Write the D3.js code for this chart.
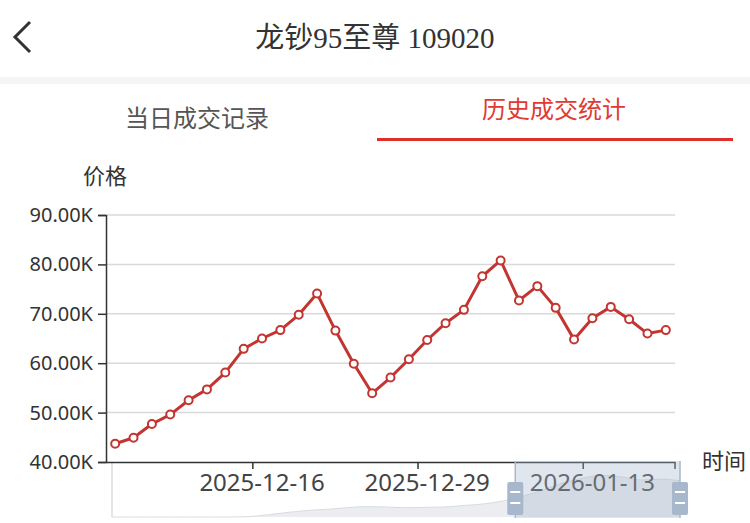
<!DOCTYPE html>
<html>
<head>
<meta charset="utf-8">
<script src="https://cdn.jsdelivr.net/npm/d3@7"></script>
<style>
  html, body { margin: 0; padding: 0; background: #fff; }
  svg { display: block; }
</style>
</head>
<body>
<svg id="chart" width="750" height="523"></svg>
<script>
// trading days shown on the category axis
const dates = [
  "2025-12-04", "2025-12-05", "2025-12-08", "2025-12-09", "2025-12-10",
  "2025-12-11", "2025-12-12", "2025-12-15", "2025-12-16", "2025-12-17",
  "2025-12-18", "2025-12-19", "2025-12-22", "2025-12-23", "2025-12-24",
  "2025-12-25", "2025-12-26", "2025-12-29", "2025-12-30", "2025-12-31",
  "2026-01-05", "2026-01-06", "2026-01-07", "2026-01-08", "2026-01-09",
  "2026-01-12", "2026-01-13", "2026-01-14", "2026-01-15", "2026-01-16",
  "2026-01-19"
];
const prices = [
  43700, 44900, 47700, 49600, 52500, 54700, 58100, 62900, 65000, 66700,
  69800, 74100, 66600, 59900, 53900, 57100, 60800, 64700, 68100, 70800,
  77600, 80800, 72700, 75600, 71200, 64800, 69100, 71400, 68900, 66000,
  66700
];
const yTicks = [40000, 50000, 60000, 70000, 80000, 90000];
const xLabelDates = ["2025-12-16", "2025-12-29", "2026-01-13"];
// full-history preview drawn in the zoom slider (price in K)
const shadowPrices = [
  20, 20, 20, 20, 20, 20, 20, 20.5, 23, 26, 28.5, 30, 32, 33.5, 33,
  32, 32.5, 33, 35, 37, 41, 47, 55, 64, 70, 74, 72, 68, 69, 67
];
const zoomStart = 71, zoomEnd = 100;

const svg = d3.select("#chart");
const cjk = "'Noto Sans CJK SC', 'Noto Sans', sans-serif";
const red = "#c23531";

// header
svg.append("path")
  .attr("d", "M30,22 L15,37 L30,52")
  .attr("fill", "none")
  .attr("stroke", "#333")
  .attr("stroke-width", 3);

svg.append("text")
  .attr("x", 375).attr("y", 48)
  .attr("text-anchor", "middle")
  .style("font-family", "'Liberation Serif', 'Noto Sans CJK SC', serif")
  .style("font-size", "29px")
  .attr("fill", "#333")
  .text("龙钞95至尊 109020");

svg.append("rect")
  .attr("x", 0).attr("y", 77).attr("width", 750).attr("height", 7)
  .attr("fill", "#f5f5f5");

svg.append("text")
  .attr("x", 197).attr("y", 116)
  .attr("text-anchor", "middle").attr("dominant-baseline", "central")
  .style("font-family", cjk).style("font-size", "24px")
  .attr("fill", "#555")
  .text("当日成交记录");

svg.append("text")
  .attr("x", 554).attr("y", 107)
  .attr("text-anchor", "middle").attr("dominant-baseline", "central")
  .style("font-family", cjk).style("font-size", "24px")
  .attr("fill", "#e03a33")
  .text("历史成交统计");

svg.append("rect")
  .attr("x", 377).attr("y", 138).attr("width", 356).attr("height", 3)
  .attr("fill", "#e02e2a");

// scales
const x = d3.scaleBand().domain(dates).range([106, 675]);
const y = d3.scaleLinear().domain([40000, 90000]).range([462, 215]);

// zoom slider background (drawn first so the axis labels sit on top)
const sx = d3.scaleLinear().domain([0, shadowPrices.length - 1]).range([112, 680]);
const sy = d3.scaleLinear().domain([20, 90]).range([517, 463]);
const pct = d3.scaleLinear().domain([0, 100]).range([112, 680]);

svg.append("path")
  .datum(shadowPrices)
  .attr("d", d3.area().x((d, i) => sx(i)).y0(517).y1((d) => sy(d)).curve(d3.curveMonotoneX))
  .attr("fill", "#ebedf0");
svg.append("path")
  .datum(shadowPrices)
  .attr("d", d3.line().x((d, i) => sx(i)).y((d) => sy(d)).curve(d3.curveMonotoneX))
  .attr("fill", "none")
  .attr("stroke", "#d8dce1")
  .attr("stroke-width", 1);

svg.append("line")
  .attr("x1", 112).attr("x2", 112).attr("y1", 463).attr("y2", 517)
  .attr("stroke", "#ddd").attr("stroke-width", 1.5);

// grid
svg.append("g")
  .selectAll(null)
  .data(yTicks.slice(1))
  .enter()
  .append("line")
  .attr("x1", 107).attr("x2", 675)
  .attr("y1", (d) => y(d)).attr("y2", (d) => y(d))
  .attr("stroke", "#d9d9d9")
  .attr("stroke-width", 1.5);

const yAxis = svg.append("g")
  .attr("transform", "translate(106,0)")
  .call(d3.axisLeft(y).tickValues(yTicks).tickSize(8).tickPadding(5)
    .tickFormat((d) => d3.format(".2f")(d / 1000) + "K"));
yAxis.select(".domain").attr("stroke", "#333").attr("stroke-width", 1.5);
yAxis.selectAll(".tick line").attr("stroke", "#333").attr("stroke-width", 1.5);
yAxis.selectAll("text")
  .style("font-family", "'Noto Sans', sans-serif")
  .style("font-size", "20px")
  .attr("fill", "#333");

svg.append("text")
  .attr("x", 105).attr("y", 174)
  .attr("text-anchor", "middle").attr("dominant-baseline", "central")
  .style("font-family", cjk).style("font-size", "22px")
  .attr("fill", "#333")
  .text("价格");

const xAxis = svg.append("g")
  .attr("transform", "translate(0,462)")
  .call(d3.axisBottom(x).tickValues(xLabelDates).tickSize(0).tickPadding(12));
xAxis.select(".domain").attr("stroke", "#333").attr("stroke-width", 1.5);
xAxis.selectAll("text")
  .style("font-family", "'Noto Sans', sans-serif")
  .style("font-size", "24px")
  .attr("fill", "#444");

svg.append("g")
  .selectAll(null)
  .data(xLabelDates.map((d) => x(d)).concat([x.range()[1]]))
  .enter()
  .append("line")
  .attr("x1", (d) => d).attr("x2", (d) => d)
  .attr("y1", 462).attr("y2", 469)
  .attr("stroke", "#333")
  .attr("stroke-width", 1.5);

svg.append("text")
  .attr("x", 724).attr("y", 459)
  .attr("text-anchor", "middle").attr("dominant-baseline", "central")
  .style("font-family", cjk).style("font-size", "22px")
  .attr("fill", "#333")
  .text("时间");

const cx = (d, i) => x(dates[i]) + x.bandwidth() / 2;

svg.append("path")
  .datum(prices)
  .attr("d", d3.line().x(cx).y((d) => y(d)))
  .attr("fill", "none")
  .attr("stroke", red)
  .attr("stroke-width", 3)
  .attr("stroke-linejoin", "round");

svg.append("g")
  .selectAll(null)
  .data(prices)
  .enter()
  .append("circle")
  .attr("cx", cx)
  .attr("cy", (d) => y(d))
  .attr("r", 4)
  .attr("fill", "#fff")
  .attr("stroke", red)
  .attr("stroke-width", 2);

// zoom slider window and handles
svg.append("rect")
  .attr("x", pct(zoomStart)).attr("y", 461)
  .attr("width", pct(zoomEnd) - pct(zoomStart)).attr("height", 57)
  .attr("fill", "rgba(167,183,204,0.35)");

const handles = svg.append("g")
  .selectAll(null)
  .data([zoomStart, zoomEnd])
  .enter()
  .append("g")
  .attr("transform", (d) => `translate(${pct(d)},0)`);
handles.append("line")
  .attr("y1", 461).attr("y2", 518)
  .attr("stroke", "#a7b7cc").attr("stroke-width", 1.5);
handles.append("rect")
  .attr("x", -8).attr("y", 482).attr("width", 16).attr("height", 33).attr("rx", 2)
  .attr("fill", "#a7b7cc");
handles.selectAll(null)
  .data([492, 503])
  .enter()
  .append("line")
  .attr("x1", -5).attr("x2", 5)
  .attr("y1", (d) => d).attr("y2", (d) => d)
  .attr("stroke", "#fff").attr("stroke-width", 2);
</script>
</body>
</html>
